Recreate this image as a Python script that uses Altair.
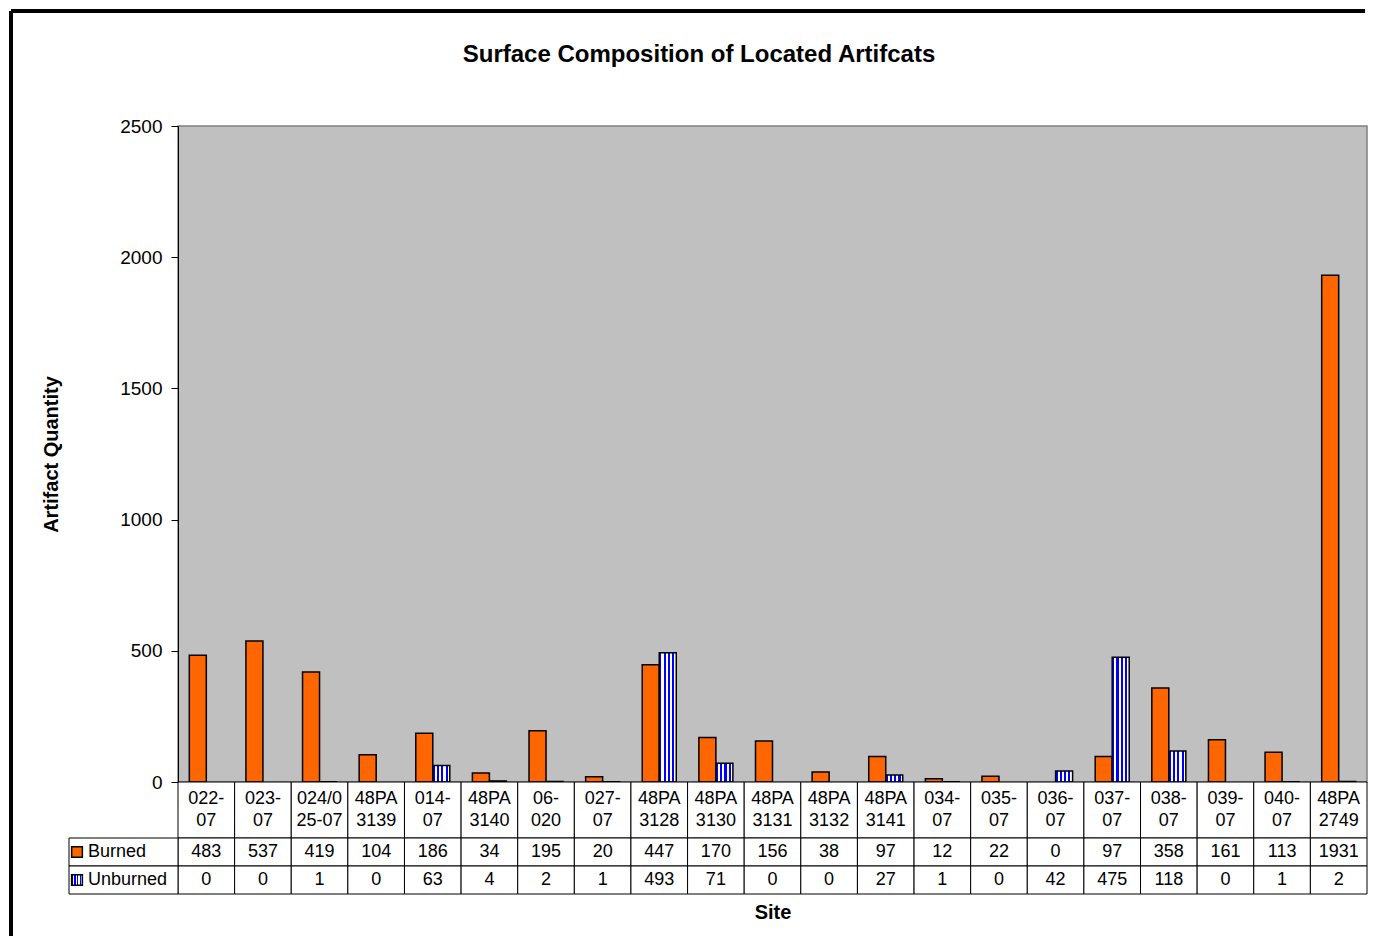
import altair as alt
import pandas as pd

# ---------------- data ----------------
sites = ["022-07", "023-07", "024/025-07", "48PA3139", "014-07", "48PA3140", "06-020",
         "027-07", "48PA3128", "48PA3130", "48PA3131", "48PA3132", "48PA3141", "034-07",
         "035-07", "036-07", "037-07", "038-07", "039-07", "040-07", "48PA2749"]
site_labels = ["022-\n07", "023-\n07", "024/0\n25-07", "48PA\n3139", "014-\n07", "48PA\n3140",
               "06-\n020", "027-\n07", "48PA\n3128", "48PA\n3130", "48PA\n3131", "48PA\n3132",
               "48PA\n3141", "034-\n07", "035-\n07", "036-\n07", "037-\n07", "038-\n07",
               "039-\n07", "040-\n07", "48PA\n2749"]
burned = [483, 537, 419, 104, 186, 34, 195, 20, 447, 170, 156, 38, 97, 12, 22, 0, 97, 358, 161, 113, 1931]
unburned = [0, 0, 1, 0, 63, 4, 2, 1, 493, 71, 0, 0, 27, 1, 0, 42, 475, 118, 0, 1, 2]
series = ["Burned", "Unburned"]
y_ticks = [0, 500, 1000, 1500, 2000, 2500]

title_text = "Surface Composition of Located Artifcats"
y_title = "Artifact Quantity"
x_title = "Site"

# ---------------- style ----------------
FONT = "Liberation Sans"
ORANGE = "#FF6600"
BLUE = "#0000FF"
W, H = 1189, 656
TH = 112

stops = []
n = 4
for i in range(n):
    a, b, c = i / n, (i + 0.5) / n, (i + 1) / n
    stops += [alt.GradientStop(offset=a, color=BLUE), alt.GradientStop(offset=b, color=BLUE),
              alt.GradientStop(offset=b, color="white"), alt.GradientStop(offset=c, color="white")]
hatch = alt.LinearGradient(gradient="linear", stops=stops, x1=0, x2=1, y1=0, y2=0)

bars_df = pd.DataFrame({
    "site": sites * 2,
    "series": ["Burned"] * len(sites) + ["Unburned"] * len(sites),
    "value": burned + unburned,
})
one = pd.DataFrame({"k": [0]})

x_enc = alt.X("site:N", sort=sites, axis=None,
              scale=alt.Scale(domain=sites, paddingInner=0, paddingOuter=0))
xoff = alt.XOffset("series:N", scale=alt.Scale(domain=series, paddingInner=0, paddingOuter=0.665))
y_enc = alt.Y("value:Q", scale=alt.Scale(domain=[0, 2500], nice=False),
              axis=alt.Axis(values=y_ticks, format="d", title=y_title, grid=False,
                            domainColor="black", tickColor="black", tickSize=7, labelPadding=9,
                            labelFontSize=19, labelColor="black", labelFont=FONT, titleFont=FONT,
                            titleFontSize=20, titleFontWeight="bold", titleColor="black",
                            titlePadding=58))

burned_bars = alt.Chart(bars_df).transform_filter(
    "datum.series == 'Burned' && datum.value > 0"
).mark_bar(fill=ORANGE, stroke="black", strokeWidth=1.5).encode(x=x_enc, xOffset=xoff, y=y_enc)

unburned_bars = alt.Chart(bars_df).transform_filter(
    "datum.series == 'Unburned' && datum.value > 0"
).mark_bar(fill=hatch, stroke="black", strokeWidth=1.5).encode(x=x_enc, xOffset=xoff, y=y_enc)

frame_top = alt.Chart(one).mark_rule(color="black", strokeWidth=4).encode(
    x=alt.value(-167), x2=alt.value(1187), y=alt.value(-115))
frame_left = alt.Chart(one).mark_rule(color="black", strokeWidth=4).encode(
    x=alt.value(-167), y=alt.value(-115), y2=alt.value(810))

title = alt.Chart(one).mark_text(text=title_text, font=FONT, fontSize=24, fontWeight="bold",
                                 align="center", baseline="alphabetic", color="black").encode(
    x=alt.value(521), y=alt.value(-64))

top = alt.layer(burned_bars, unburned_bars, frame_top, frame_left, title).properties(
    width=W, height=H,
    view=alt.ViewBackground(fill="#C0C0C0", stroke="#808080", strokeWidth=1.5))

# ---------------- data table ----------------
cells_df = pd.DataFrame({
    "site": sites * 3,
    "y0": [0] * len(sites) + [2] * len(sites) + [3] * len(sites),
    "y1": [2] * len(sites) + [3] * len(sites) + [4] * len(sites),
})
hdr_df = pd.DataFrame({"site": sites, "label": site_labels, "ypos": [0.6] * len(sites)})
vals_df = pd.DataFrame({
    "site": sites * 2,
    "ypos": [2.5] * len(sites) + [3.5] * len(sites),
    "val": [str(v) for v in burned + unburned],
})
leg_df = pd.DataFrame({"series": series, "y0": [2, 3], "y1": [3, 4], "ypos": [2.5, 3.5]})

x_b = alt.X("site:N", sort=sites,
            scale=alt.Scale(domain=sites, paddingInner=0, paddingOuter=0),
            axis=alt.Axis(labels=False, ticks=False, domain=False, grid=False, title=x_title,
                          titleFont=FONT, titleFontSize=20, titleFontWeight="bold",
                          titleColor="black", titlePadding=8))
ysc = alt.Scale(domain=[0, 4], reverse=True, nice=False, zero=False)

cells = alt.Chart(cells_df).mark_rect(fill="white", stroke="black", strokeWidth=1).encode(
    x=x_b, y=alt.Y("y0:Q", scale=ysc, axis=None), y2="y1:Q")
hdr = alt.Chart(hdr_df).mark_text(font=FONT, fontSize=18, lineBreak="\n", lineHeight=22,
                                  baseline="middle", align="center", color="black").encode(
    x=x_b, y=alt.Y("ypos:Q", scale=ysc, axis=None), text="label:N")
vals = alt.Chart(vals_df).mark_text(font=FONT, fontSize=18, baseline="middle", align="center",
                                    color="black").encode(
    x=x_b, y=alt.Y("ypos:Q", scale=ysc, axis=None), text="val:N")

leg_cells = alt.Chart(leg_df).mark_rect(fill="white", stroke="black", strokeWidth=1).encode(
    x=alt.value(-109), x2=alt.value(0), y=alt.Y("y0:Q", scale=ysc, axis=None), y2="y1:Q")
leg_sq_b = alt.Chart(leg_df).transform_filter("datum.series == 'Burned'").mark_square(
    size=115, fill=ORANGE, stroke="black", strokeWidth=1.5, opacity=1).encode(
    x=alt.value(-101), y=alt.Y("ypos:Q", scale=ysc, axis=None))
leg_sq_u = alt.Chart(leg_df).transform_filter("datum.series == 'Unburned'").mark_square(
    size=115, fill=hatch, stroke="black", strokeWidth=1.5, opacity=1).encode(
    x=alt.value(-101), y=alt.Y("ypos:Q", scale=ysc, axis=None))
leg_txt = alt.Chart(leg_df).mark_text(font=FONT, fontSize=18, baseline="middle", align="left",
                                      color="black").encode(
    x=alt.value(-90), y=alt.Y("ypos:Q", scale=ysc, axis=None), text="series:N")

bottom = alt.layer(cells, hdr, vals, leg_cells, leg_sq_b, leg_sq_u, leg_txt).properties(
    width=W, height=TH, view=alt.ViewBackground(stroke="transparent"))

chart = alt.vconcat(top, bottom, spacing=0, bounds="flush").properties(
    padding=0, background="white"
).configure(font=FONT)

chart.save("out.html", embed_options={"renderer": "svg", "actions": False})
